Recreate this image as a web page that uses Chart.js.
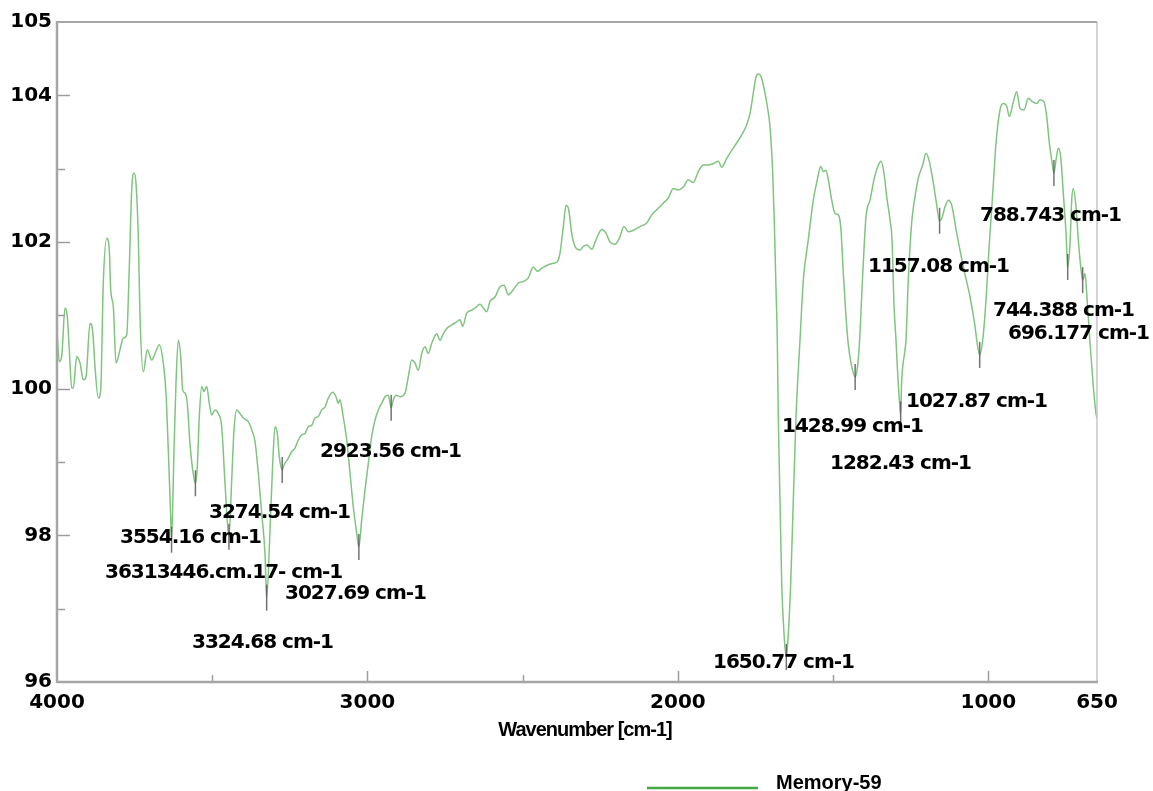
<!DOCTYPE html>
<html>
<head>
<meta charset="utf-8">
<script src="https://cdn.jsdelivr.net/npm/chart.js@4/dist/chart.umd.min.js"></script>
<style>
html,body{margin:0;padding:0;background:#fff;}
#wrap{width:1153px;height:791px;position:relative;}
</style>
</head>
<body>
<div id="wrap"><canvas id="c" width="1153" height="791"></canvas></div>
<script>
// ---- data ----
const wavenumbers = [
4000, 3992.6, 3984.9, 3974.2, 3966.8, 3960.4, 3952.6, 3947.5, 3936.5, 3925.9,
3915.3, 3906.6, 3893.7, 3885.0, 3877.6, 3867.0, 3859.2, 3850.9, 3839.9, 3831.5,
3827.0, 3818.6, 3809.9, 3797.1, 3786.4, 3775.5, 3767.1, 3759.4, 3751.8, 3745.5,
3738.1, 3732.6, 3722.0, 3709.1, 3695.0, 3684.3, 3670.5, 3657.6, 3648.9, 3641.5,
3633.7, 3631, 3623.1, 3616.7, 3609.3, 3601.5, 3595.1, 3587.7, 3580.3, 3571.6,
3562.9, 3554.16, 3548.1, 3541.6, 3533.9, 3526.5, 3517.8, 3509.4, 3501.7, 3491.0,
3480.4, 3469.5, 3458.8, 3446.17, 3437.3, 3429.8, 3421.2, 3410.5, 3399.9, 3383.8,
3372.8, 3362.2, 3351.6, 3340.6, 3330.0, 3324.68, 3313.9, 3305.2, 3297.8, 3290.4,
3283.9, 3274.54, 3268.8, 3258.2, 3244.0, 3233.4, 3222.7, 3211.8, 3201.1, 3190.5,
3179.6, 3168.9, 3158.3, 3147.4, 3136.7, 3126.1, 3111.9, 3101.3, 3093.9, 3088.4,
3079.7, 3066.8, 3056.2, 3045.6, 3034.6, 3027.69, 3018.5, 3007.9, 2997.2, 2986.3,
2975.7, 2965.0, 2954.1, 2943.4, 2932.8, 2923.56, 2916.7, 2905.7, 2895.1, 2879.0,
2868.4, 2857.4, 2846.8, 2836.2, 2825.2, 2814.6, 2804.0, 2793.0, 2776.9, 2766.3,
2755.6, 2744.7, 2728.6, 2712.5, 2701.9, 2693.2, 2680.3, 2664.2, 2653.5, 2637.4,
2626.8, 2615.9, 2605.2, 2589.1, 2573.0, 2560.1, 2546.3, 2530.2, 2514.1, 2497.9,
2481.8, 2465.7, 2452.9, 2438.7, 2417.5, 2401.3, 2388.4, 2379.7, 2369.1, 2360.4,
2351.7, 2342.1, 2331.4, 2315.3, 2304.7, 2291.8, 2277.6, 2263.8, 2245.4, 2231.6,
2218.7, 2202.6, 2188.7, 2173.6, 2159.7, 2143.6, 2122.0, 2100.4, 2084.3, 2068.2,
2047.0, 2030.9, 2014.8, 1998.7, 1982.5, 1966.4, 1950.3, 1934.3, 1918.1, 1902.0,
1885.9, 1869.8, 1858.9, 1842.7, 1826.6, 1810.5, 1794.4, 1778.3, 1767.7, 1757.1,
1748.4, 1739.7, 1730.0, 1719.4, 1712.0, 1703.3, 1694.6, 1689.4, 1683.9, 1679.8,
1676.6, 1671.1, 1665.6, 1658.2, 1650.77, 1644.3, 1636.6, 1628.2, 1619.5, 1606.7,
1596.0, 1580.0, 1563.8, 1550.9, 1540.0, 1531.6, 1522.9, 1515.5, 1504.5, 1493.9,
1483.3, 1475.5, 1467.1, 1458.5, 1451.1, 1440.1, 1428.99, 1421.4, 1415.5, 1404.5,
1394.0, 1381.1, 1368.3, 1354.3, 1345.7, 1336.1, 1327.4, 1316.7, 1310.3, 1303.8,
1297.4, 1293.2, 1286.7, 1282.43, 1279.5, 1268.4, 1265.2, 1257.9, 1247.0, 1236.2,
1225.5, 1211.4, 1200.8, 1190.1, 1179.1, 1168.6, 1157.08, 1150.1, 1139.6, 1128.9,
1117.9, 1101.8, 1080.6, 1059.0, 1042.9, 1037.4, 1027.87, 1018.2, 1007.5, 996.8,
985.9, 975.3, 962.4, 951.8, 940.9, 932.4, 919.6, 908.6, 898.0, 885.1,
871.3, 857.1, 844.2, 833.6, 820.7, 812.0, 803.6, 795.9, 788.743, 782.0,
774.6, 766.9, 758.5, 749.8, 744.388, 736.9, 731.5, 726.3, 717.6, 710.2,
702.4, 696.177, 688.6, 683.1, 672.5, 661.9, 653.2, 650
];
const transmittance = [
100.78, 100.37, 100.44, 101.10, 100.98, 100.53, 100.01, 100.01, 100.44, 100.35,
100.12, 100.16, 100.89, 100.78, 100.30, 99.87, 99.98, 101.44, 102.05, 101.89,
101.35, 101.12, 100.35, 100.53, 100.69, 100.73, 101.66, 102.71, 102.94, 102.80,
102.07, 100.98, 100.23, 100.53, 100.39, 100.48, 100.60, 100.35, 99.94, 99.16,
98.25, 97.94, 99.16, 100.08, 100.66, 100.44, 99.98, 99.94, 99.80, 99.25,
98.89, 98.71, 98.94, 99.62, 100.03, 99.96, 100.03, 99.80, 99.64, 99.71,
99.66, 99.48, 98.71, 97.98, 98.75, 99.44, 99.71, 99.66, 99.60, 99.55,
99.44, 99.28, 98.85, 98.30, 97.75, 97.15, 98.07, 98.98, 99.48, 99.39,
99.07, 98.89, 98.96, 99.03, 99.14, 99.19, 99.30, 99.37, 99.39, 99.48,
99.50, 99.60, 99.62, 99.71, 99.75, 99.87, 99.95, 99.89, 99.80, 99.85,
99.66, 99.30, 98.85, 98.39, 98.03, 97.84, 98.21, 98.62, 98.98, 99.35,
99.57, 99.71, 99.80, 99.89, 99.91, 99.74, 99.85, 99.91, 99.89, 99.94,
100.16, 100.39, 100.35, 100.25, 100.48, 100.57, 100.48, 100.62, 100.75, 100.66,
100.75, 100.82, 100.87, 100.91, 100.94, 100.85, 101.03, 101.07, 101.10, 101.15,
101.10, 101.05, 101.19, 101.25, 101.39, 101.41, 101.28, 101.35, 101.44, 101.46,
101.51, 101.66, 101.60, 101.64, 101.69, 101.71, 101.73, 101.85, 102.21, 102.50,
102.44, 102.12, 101.94, 101.89, 101.94, 101.96, 101.90, 102.03, 102.17, 102.12,
102.00, 101.97, 102.05, 102.21, 102.14, 102.16, 102.21, 102.26, 102.37, 102.44,
102.53, 102.60, 102.73, 102.71, 102.75, 102.85, 102.81, 102.96, 103.05, 103.05,
103.07, 103.10, 103.02, 103.14, 103.25, 103.35, 103.46, 103.60, 103.75, 104.03,
104.25, 104.29, 104.23, 104.03, 103.85, 103.57, 102.94, 102.26, 101.35, 100.66,
99.62, 98.48, 97.35, 96.66, 96.34, 96.66, 97.35, 98.48, 99.62, 100.66,
101.48, 102.03, 102.57, 102.85, 103.03, 102.96, 102.98, 102.85, 102.57, 102.39,
102.37, 102.21, 101.57, 100.98, 100.60, 100.30, 100.16, 100.30, 100.60, 101.57,
102.35, 102.57, 102.85, 103.05, 103.10, 102.94, 102.62, 102.30, 102.03, 101.12,
100.66, 100.30, 99.85, 99.65, 100.07, 100.53, 100.66, 101.48, 102.26, 102.62,
102.87, 103.05, 103.21, 103.10, 102.85, 102.57, 102.29, 102.32, 102.48, 102.57,
102.50, 102.12, 101.66, 101.25, 100.85, 100.66, 100.46, 100.66, 101.21, 101.98,
102.66, 103.35, 103.80, 103.89, 103.85, 103.71, 103.91, 104.05, 103.82, 103.80,
103.96, 103.91, 103.89, 103.94, 103.91, 103.71, 103.35, 103.12, 102.94, 103.12,
103.28, 103.16, 102.66, 102.12, 101.66, 101.98, 102.57, 102.73, 102.48, 102.03,
101.66, 101.48, 101.57, 101.30, 100.62, 100.03, 99.66, 99.6
];
const seriesName = 'Memory-59';
const xTicks = [4000, 3500, 3000, 2500, 2000, 1500, 1000, 650];
const xTickLabels = ['4000', '', '3000', '', '2000', '', '1000', '650'];
const yTicks = [96, 97, 98, 99, 100, 101, 102, 103, 104, 105];
const yTickLabels = ['96', '', '98', '', '100', '', '102', '', '104', '105'];
const xTitle = 'Wavenumber [cm-1]';
// detected peaks (marker positions)
const peakWavenumbers = [3631, 3554.16, 3446.17, 3324.68, 3274.54, 3027.69, 2923.56, 1650.77, 1428.99, 1282.43, 1157.08, 1027.87, 788.743, 744.388, 696.177];
const peakValues = [97.94, 98.71, 97.98, 97.15, 98.89, 97.84, 99.74, 96.34, 100.16, 99.65, 102.29, 100.46, 102.94, 101.66, 101.48];
// peak annotation texts (as printed on the original, incl. the overlapping one)
const peakTexts = ['2923.56 cm-1', '3274.54 cm-1', '3554.16 cm-1', '36313446.cm.17- cm-1', '3027.69 cm-1', '3324.68 cm-1',
  '1650.77 cm-1', '1428.99 cm-1', '1282.43 cm-1', '1027.87 cm-1', '1157.08 cm-1', '788.743 cm-1', '744.388 cm-1', '696.177 cm-1'];
// text anchors (left edge, vertical middle) in axis units
const peakTextWn = [3152.8, 3510.4, 3797.1, 3845.4, 3265.6, 3565.1, 1886.9, 1664.6, 1510.0, 1265.2, 1387.6, 1026.8, 984.9, 936.6];
const peakTextT  = [99.136, 98.305, 97.964, 97.486, 97.20, 96.532, 96.259, 99.477, 98.973, 99.818, 101.659, 102.355, 101.059, 100.745];

// ---- decorations drawn through the chart's scales ----
const irDecor = {
  id: 'irDecor',
  afterDatasetsDraw(chart) {
    const {ctx, chartArea: a, scales: {x, y}} = chart;
    const seg = (x1, y1, x2, y2) => { ctx.beginPath(); ctx.moveTo(x1, y1); ctx.lineTo(x2, y2); ctx.stroke(); };
    ctx.save();
    // inward tick marks
    ctx.strokeStyle = '#9c9c9c';
    ctx.lineWidth = 1.5;
    xTicks.forEach((v, i) => {
      if (v === 4000 || v === 650) return;
      const px = Math.round(x.getPixelForValue(v)) + 0.5;
      seg(px, a.bottom, px, a.bottom - (xTickLabels[i] ? 11 : 7));
    });
    yTicks.forEach((v, i) => {
      if (v === 96 || v === 105) return;
      const py = Math.round(y.getPixelForValue(v)) + 0.5;
      seg(a.left, py, a.left + (yTickLabels[i] ? 13 : 8), py);
    });
    // frame
    ctx.strokeStyle = '#c4c4c4'; ctx.lineWidth = 1.5;
    seg(a.right, a.top, a.right, a.bottom);
    ctx.strokeStyle = '#a6a6a6'; ctx.lineWidth = 2;
    seg(a.left, a.top, a.right, a.top);
    ctx.lineWidth = 2.5;
    seg(a.left, a.top - 1, a.left, a.bottom + 1);
    seg(a.left, a.bottom, a.right + 1, a.bottom);
    // peak markers
    ctx.strokeStyle = 'rgba(90,90,90,0.85)'; ctx.lineWidth = 1.5;
    peakWavenumbers.forEach((w, i) => {
      const px = x.getPixelForValue(w), py = y.getPixelForValue(peakValues[i]);
      seg(px, py - 13, px, Math.min(py + 13, a.bottom));
    });
    // peak labels
    ctx.fillStyle = '#000';
    ctx.font = 'bold 20px "DejaVu Sans"';
    ctx.letterSpacing = '-1px';
    ctx.textAlign = 'left';
    ctx.textBaseline = 'middle';
    peakTexts.forEach((t, i) => {
      ctx.fillText(t, x.getPixelForValue(peakTextWn[i]), y.getPixelForValue(peakTextT[i]));
    });
    // axis title
    ctx.font = 'bold 20px "Liberation Sans"';
    ctx.letterSpacing = '-1px';
    ctx.textAlign = 'center';
    ctx.fillText(xTitle, (a.left + a.right) / 2 + 8, a.bottom + 48);
    // legend
    ctx.letterSpacing = '0px';
    ctx.strokeStyle = '#44a844'; ctx.lineWidth = 2.5;
    seg(a.left + 590, a.bottom + 106, a.left + 701, a.bottom + 106);
    ctx.textAlign = 'left';
    ctx.fillText(seriesName, a.left + 719, a.bottom + 101);
    ctx.restore();
  }
};

const tickFont = {family: 'DejaVu Sans', weight: 'bold', size: 20};

new Chart(document.getElementById('c'), {
  type: 'line',
  data: {
    datasets: [{
      label: seriesName,
      data: wavenumbers.map((w, i) => ({x: w, y: transmittance[i]})),
      borderColor: 'rgb(128,196,128)',
      borderWidth: 1.5,
      pointRadius: 0,
      cubicInterpolationMode: 'monotone',
      fill: false
    }]
  },
  options: {
    responsive: false,
    devicePixelRatio: 1,
    animation: false,
    layout: {padding: {left: 10, right: 56, top: 22, bottom: 76}},
    plugins: {legend: {display: false}, tooltip: {enabled: false}},
    scales: {
      x: {
        type: 'linear', reverse: true, min: 650, max: 4000,
        afterBuildTicks: s => { s.ticks = xTicks.map(v => ({value: v})); },
        afterFit: s => { s.height = 33; },
        ticks: {autoSkip: false, maxRotation: 0, minRotation: 0, padding: 9, color: '#000', font: tickFont,
          callback: (v, i) => xTickLabels[i]},
        grid: {display: false, drawTicks: false},
        border: {display: false}
      },
      y: {
        type: 'linear', min: 96, max: 105,
        afterBuildTicks: s => { s.ticks = yTicks.map(v => ({value: v})); },
        afterFit: s => { s.width = 47; },
        ticks: {autoSkip: false, padding: 5, color: '#000', font: tickFont,
          callback: (v, i) => yTickLabels[i]},
        grid: {display: false, drawTicks: false},
        border: {display: false}
      }
    }
  },
  plugins: [irDecor]
});
</script>
</body>
</html>
